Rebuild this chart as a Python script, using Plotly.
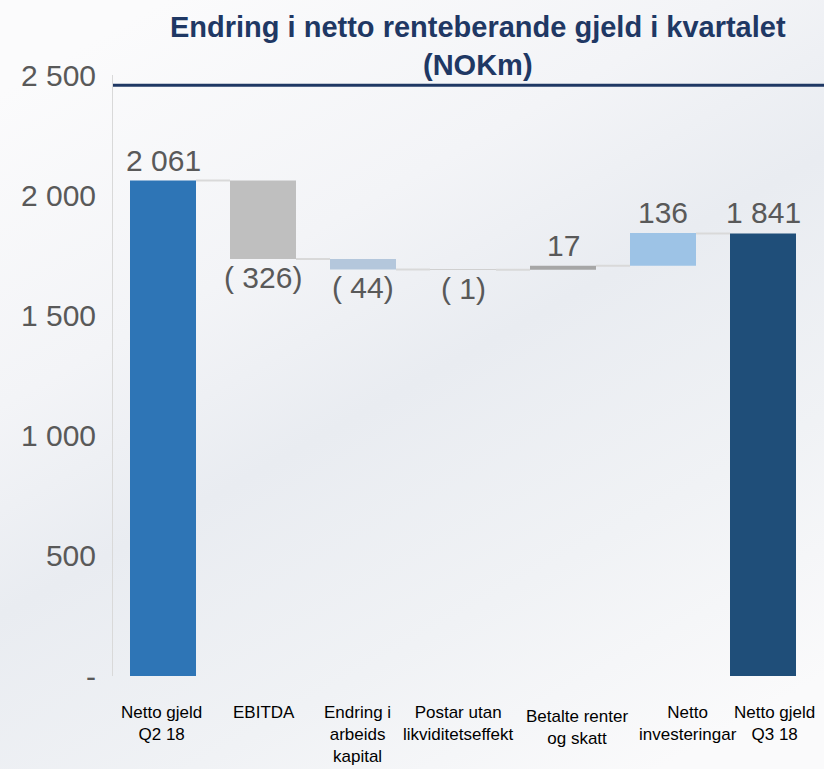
import urllib.parse
import plotly.graph_objects as go

categories = ["Netto gjeld<br>Q2 18", "EBITDA", "Endring i<br>arbeids<br>kapital",
              "Postar utan<br>likviditetseffekt", "Betalte renter<br>og skatt",
              "Netto<br>investeringar", "Netto gjeld<br>Q3 18"]
values = [2061, -326, -44, -1, 17, 136, 1841]
measures = ["absolute", "relative", "relative", "relative", "relative", "relative", "absolute"]
colors = ["#2E75B6", "#BFBFBF", "#B4C7DC", "#D0D0D0", "#A6A6A6", "#9DC3E6", "#1F4E79"]

y_ticks = [0, 500, 1000, 1500, 2000, 2500]
y_ticktext = ["-", "500", "1 000", "1 500", "2 000", "2 500"]

# small nudges of the category text boxes, as on the slide
label_dx = [-2, 1, -6, -5, 14, 25, 11]
label_dy = [0, 0, 0, 0, -4, 0, 0]

# running totals -> bar bases
bases, heights, levels = [], [], []
total = 0
for v, m in zip(values, measures):
    if m == "absolute":
        bases.append(0)
        heights.append(v)
        total = v
    else:
        bases.append(min(total, total + v))
        heights.append(abs(v))
        total += v
    levels.append(total)


def fmt(v):
    s = f"{abs(v):,}".replace(",", " ")
    return f"( {s})" if v < 0 else s


x = list(range(len(categories)))
bar_w = 0.66

fig = go.Figure()

# connectors
for i in range(len(x) - 1):
    lvl = levels[i] if measures[i + 1] == "relative" else values[i + 1]
    fig.add_trace(go.Scatter(
        x=[x[i] + bar_w / 2, x[i + 1] - bar_w / 2], y=[lvl, lvl],
        mode="lines", line=dict(color="#D9D9D9", width=2),
        hoverinfo="skip", showlegend=False))

fig.add_trace(go.Bar(
    x=x, y=heights, base=bases, width=bar_w,
    marker=dict(color=colors, line=dict(width=0)),
    showlegend=False))

# value labels
lab_font = dict(family="Liberation Sans, Arial", size=30, color="#595959")
annotations = []
for i, v in enumerate(values):
    if v < 0:
        annotations.append(dict(x=i, y=bases[i], text=fmt(v), showarrow=False,
                                yanchor="top", yshift=0, font=lab_font))
    else:
        annotations.append(dict(x=i, y=bases[i] + heights[i], text=fmt(v),
                                showarrow=False, yanchor="bottom", yshift=2,
                                font=lab_font))

# category labels
for i, c in enumerate(categories):
    annotations.append(dict(x=i, y=0, yref="paper", text=c, showarrow=False,
                            xanchor="center", yanchor="top", borderpad=0,
                            xshift=label_dx[i], yshift=-26 + label_dy[i],
                            font=dict(family="Liberation Sans, Arial", size=17,
                                      color="#000000")))

annotations.append(dict(
    text="<b>Endring i netto renteberande gjeld i kvartalet<br>(NOKm)</b>",
    xref="paper", yref="paper", x=0.521, y=1.110, xanchor="center", yanchor="top",
    showarrow=False, font=dict(family="Liberation Sans, Arial", size=29, color="#1F3864")))

# soft slide background
bg_svg = (
    '<svg xmlns="http://www.w3.org/2000/svg" width="824" height="769">'
    '<defs><linearGradient id="g" x1="0.2" y1="0" x2="0.8" y2="1">'
    '<stop offset="0" stop-color="#FBFBFC"/>'
    '<stop offset="0.3" stop-color="#F3F4F7"/>'
    '<stop offset="0.5" stop-color="#E9ECF1"/>'
    '<stop offset="0.75" stop-color="#F0F2F5"/>'
    '<stop offset="1" stop-color="#FAFAFB"/>'
    '</linearGradient></defs>'
    '<rect width="824" height="769" fill="url(#g)"/></svg>')
bg_src = "data:image/svg+xml;charset=utf-8," + urllib.parse.quote(bg_svg)

fig.update_layout(
    width=824, height=769,
    margin=dict(l=113, r=11, t=75, b=93),
    paper_bgcolor="#F2F3F6",
    plot_bgcolor="rgba(0,0,0,0)",
    font=dict(family="Liberation Sans, Arial"),
    annotations=annotations,
    images=[dict(source=bg_src, xref="paper", yref="paper",
                 x=-113 / 700, y=1 + 75 / 601, sizex=824 / 700, sizey=769 / 601,
                 xanchor="left", yanchor="top", sizing="stretch", layer="below")],
    xaxis=dict(
        range=[-0.5, len(x) - 0.5], showticklabels=False,
        showline=False, showgrid=False, zeroline=False, ticks="",
        automargin=False),
    yaxis=dict(
        range=[0, 2500], tickvals=y_ticks, ticktext=y_ticktext,
        showgrid=False, zeroline=False, showline=True, linecolor="#D9D9D9",
        linewidth=1, ticks="", ticklabelstandoff=10, automargin=False,
        tickfont=dict(size=30, color="#595959")),
    shapes=[dict(type="line", xref="paper", yref="paper",
                 x0=0, x1=1.016, y0=0.983, y1=0.983,
                 line=dict(color="#1F3864", width=3))],
)

fig.write_html("out.html", config={"displayModeBar": False},
               post_script="document.body.style.margin='0';")
